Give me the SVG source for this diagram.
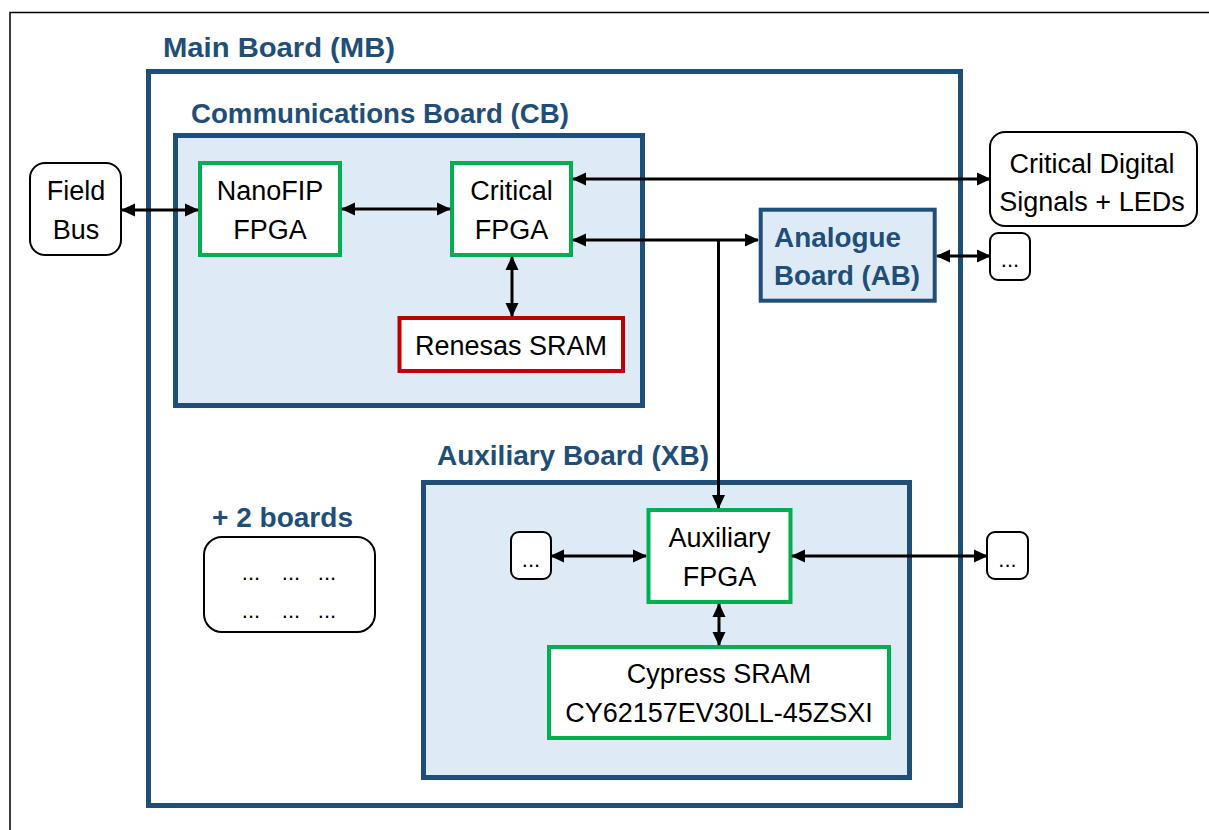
<svg xmlns="http://www.w3.org/2000/svg" width="1209" height="830" viewBox="0 0 1209 830">
<style>
.board{fill:#DEEBF7;stroke:#1F4E79;stroke-width:5}
.title{font-family:"Liberation Sans",Arial,sans-serif;font-weight:bold;font-size:28px;fill:#1F4E79}
.chip{fill:#FFFFFF;stroke:#00B050;stroke-width:4}
.red{fill:#FFFFFF;stroke:#C00000;stroke-width:4}
.ext{fill:#FFFFFF;stroke:#000000;stroke-width:2}
.t{font-family:"Liberation Sans",Arial,sans-serif;font-size:27px;fill:#000000;text-anchor:middle}
.dots{font-family:"Liberation Sans",Arial,sans-serif;font-size:22px;fill:#000000;text-anchor:middle}
.conn{fill:none;stroke:#000000;stroke-width:3}
</style>
<defs>
<marker id="ah" markerUnits="userSpaceOnUse" markerWidth="15" markerHeight="15" refX="13" refY="7.5" orient="auto-start-reverse">
<path d="M0,1 L14,7.5 L0,14 Z" fill="#000000"/>
</marker>
</defs>
<rect width="1209" height="830" fill="#FFFFFF"/>
<path d="M10,830 V12.5 H1209" fill="none" stroke="#000000" stroke-width="1.5"/>

<g id="main-board">
<rect x="148.5" y="71.5" width="812" height="734" fill="#FFFFFF" stroke="#1F4E79" stroke-width="5"/>
<text class="title" x="163" y="57" textLength="232" lengthAdjust="spacingAndGlyphs">Main Board (MB)</text>
</g>

<g id="communications-board">
<rect class="board" x="175.5" y="135.5" width="467" height="270"/>
<text class="title" x="191" y="123" textLength="378" lengthAdjust="spacingAndGlyphs">Communications Board (CB)</text>
</g>

<g id="auxiliary-board">
<rect class="board" x="423.5" y="482.5" width="486" height="295"/>
<text class="title" x="437" y="465" textLength="272" lengthAdjust="spacingAndGlyphs">Auxiliary Board (XB)</text>
</g>

<g id="field-bus">
<rect class="ext" x="30" y="163" width="91" height="92" rx="15"/>
<text class="t" x="76" y="200">Field</text>
<text class="t" x="76" y="239">Bus</text>
</g>

<g id="nanofip-fpga">
<rect class="chip" x="200" y="163" width="140" height="92"/>
<text class="t" x="270" y="200">NanoFIP</text>
<text class="t" x="270" y="239">FPGA</text>
</g>

<g id="critical-fpga">
<rect class="chip" x="452" y="163" width="119" height="92"/>
<text class="t" x="511.5" y="200">Critical</text>
<text class="t" x="511.5" y="239">FPGA</text>
</g>

<g id="renesas-sram">
<rect class="red" x="399.5" y="318" width="223.5" height="53"/>
<text class="t" x="511" y="355">Renesas SRAM</text>
</g>

<g id="critical-digital-signals">
<rect class="ext" x="990" y="132" width="207" height="94" rx="15"/>
<text class="t" x="1092" y="173">Critical Digital</text>
<text class="t" x="1092" y="211">Signals + LEDs</text>
</g>

<g id="analogue-board">
<rect x="760.7" y="209.7" width="174" height="91" fill="#DEEBF7" stroke="#1F4E79" stroke-width="4"/>
<text class="title" x="774" y="247" textLength="127" lengthAdjust="spacingAndGlyphs">Analogue</text>
<text class="title" x="774" y="285" textLength="146" lengthAdjust="spacingAndGlyphs">Board (AB)</text>
</g>

<g id="analogue-ext">
<rect class="ext" x="990" y="233" width="40" height="47" rx="8"/>
<text class="dots" x="1010" y="267">...</text>
</g>

<g id="two-boards">
<text class="title" x="212" y="527" textLength="141" lengthAdjust="spacingAndGlyphs">+ 2 boards</text>
<rect class="ext" x="204" y="537" width="171" height="95" rx="18"/>
<text class="dots" x="251" y="580">...</text>
<text class="dots" x="291" y="580">...</text>
<text class="dots" x="327" y="580">...</text>
<text class="dots" x="251" y="618">...</text>
<text class="dots" x="291" y="618">...</text>
<text class="dots" x="327" y="618">...</text>
</g>

<g id="aux-left-ext">
<rect class="ext" x="511" y="532" width="40" height="47" rx="8"/>
<text class="dots" x="531" y="567">...</text>
</g>

<g id="aux-right-ext">
<rect class="ext" x="987" y="532" width="41" height="47" rx="8"/>
<text class="dots" x="1007.5" y="567">...</text>
</g>

<g id="auxiliary-fpga">
<rect class="chip" x="648.5" y="510" width="142" height="92"/>
<text class="t" x="719.5" y="547">Auxiliary</text>
<text class="t" x="719.5" y="586">FPGA</text>
</g>

<g id="cypress-sram">
<rect class="chip" x="549" y="647" width="340" height="91"/>
<text class="t" x="719" y="683">Cypress SRAM</text>
<text class="t" x="719" y="722">CY62157EV30LL-45ZSXI</text>
</g>

<g id="connectors">
<path class="conn" d="M122,210 H198" marker-start="url(#ah)" marker-end="url(#ah)"/>
<path class="conn" d="M342,209 H450" marker-start="url(#ah)" marker-end="url(#ah)"/>
<path class="conn" d="M512,257 V316" marker-start="url(#ah)" marker-end="url(#ah)"/>
<path class="conn" d="M573,179 H990" marker-start="url(#ah)" marker-end="url(#ah)"/>
<path class="conn" d="M573,240 H758" marker-start="url(#ah)" marker-end="url(#ah)"/>
<path class="conn" d="M718.5,240 V508" marker-end="url(#ah)"/>
<path class="conn" d="M937,256 H990" marker-start="url(#ah)" marker-end="url(#ah)"/>
<path class="conn" d="M551,556 H646" marker-start="url(#ah)" marker-end="url(#ah)"/>
<path class="conn" d="M792,556 H987" marker-start="url(#ah)" marker-end="url(#ah)"/>
<path class="conn" d="M719,604 V645" marker-start="url(#ah)" marker-end="url(#ah)"/>
</g>
</svg>
